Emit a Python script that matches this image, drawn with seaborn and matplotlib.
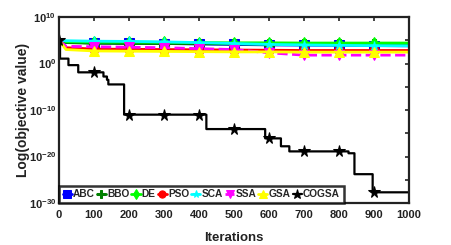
import numpy as np
import pandas as pd
import matplotlib
matplotlib.use("Agg")
import matplotlib.pyplot as plt
import seaborn as sns
from matplotlib.ticker import LogFormatterMathtext, NullFormatter, FixedLocator

sns.set_theme(style="white")
plt.rcParams['font.family'] = ['Liberation Sans Narrow', 'Liberation Sans', 'DejaVu Sans']
plt.rcParams['mathtext.fontset'] = 'custom'
plt.rcParams['mathtext.rm'] = 'Liberation Sans'
plt.rcParams['mathtext.bf'] = 'Liberation Sans:bold'

# ---- data (log10 of objective value) ----
iters = [0, 20, 100, 200, 300, 400, 500, 600, 700, 800, 900, 1000]
abc_log = [5.0, 4.6, 4.4, 4.35, 4.3, 4.2, 4.1, 4.0, 3.95, 3.9, 3.85, 3.8]
bbo_log = [5.0, 4.5, 4.35, 4.3, 4.3, 4.25, 4.2, 4.15, 4.1, 4.1, 4.1, 4.1]
de_log = [5.0, 4.7, 4.6, 4.6, 4.55, 4.5, 4.45, 4.45, 4.4, 4.4, 4.4, 4.4]
pso_log = [5.0, 3.4, 3.1, 3.05, 3.0, 2.95, 2.9, 2.85, 2.8, 2.8, 2.8, 2.8]
sca_log = [5.0, 4.9, 4.8, 4.75, 4.65, 4.5, 4.3, 4.1, 4.0, 3.9, 3.85, 3.8]
ssa_log = [5.0, 3.7, 3.6, 3.5, 3.4, 3.2, 3.0, 2.3, 1.8, 1.8, 1.8, 1.8]
gsa_log = [5.0, 3.0, 2.7, 2.65, 2.6, 2.55, 2.5, 2.5, 2.45, 2.45, 2.45, 2.45]

cogsa_iters = [0, 3, 27, 55, 127, 137, 141, 186, 421, 589, 634, 658, 827, 844, 896, 1000]
cogsa_log = [5.0, 1.05, -0.35, -1.9, -2.8, -3.5, -4.5, -11.0, -14.1, -16.1, -17.8, -18.9, -19.3, -23.8, -27.7, -27.7]

names = ["ABC", "BBO", "DE", "PSO", "SCA", "SSA", "GSA", "COGSA"]
colors = ["#0000ff", "#008000", "#00ff00", "#ff0000", "#00ffff", "#ff00ff", "#ffff00", "#000000"]
markers = ["s", "P", "d", "o", "*", "v", "^", "*"]
styles = ["-", "-", "-", "-", "-", "--", "-", "-"]
series = [abc_log, bbo_log, de_log, pso_log, sca_log, ssa_log, gsa_log]

fig = plt.figure(figsize=(4.52, 2.45), dpi=100)
ax = fig.add_axes([0.1305, 0.1714, 0.7745, 0.7592])

mark_idx = [2, 3, 4, 5, 6, 7, 8, 9, 10]
for name, vals, c, m, ls in zip(names[:7], series, colors[:7], markers[:7], styles[:7]):
    df = pd.DataFrame({"Iterations": iters, "value": np.power(10.0, vals)})
    sns.lineplot(data=df, x="Iterations", y="value", ax=ax, color=c, lw=2.0,
                 linestyle=ls, marker=m, markersize=6.5, markevery=mark_idx,
                 markeredgecolor=c, label=name)

# COGSA as step curve on the full iteration grid
full_it = np.arange(0, 1001)
idx = np.searchsorted(cogsa_iters, full_it, side="right") - 1
cog_vals = np.power(10.0, np.array(cogsa_log)[idx])
dfc = pd.DataFrame({"Iterations": full_it, "value": cog_vals})
sns.lineplot(data=dfc, x="Iterations", y="value", ax=ax, color="black", lw=1.6,
             drawstyle="steps-post", marker="*", markersize=8.5,
             markevery=list(range(0, 1000, 100)), markeredgecolor="black", label="COGSA")

ax.set_yscale("log")
ax.set_xlim(0, 1000)
ax.set_ylim(1e-30, 1e10)
ax.xaxis.set_major_locator(FixedLocator(list(range(0, 1001, 100))))
ax.yaxis.set_major_locator(FixedLocator([1e-30, 1e-20, 1e-10, 1e0, 1e10]))
ax.yaxis.set_major_formatter(LogFormatterMathtext())
ax.yaxis.set_minor_locator(FixedLocator([1e-25, 1e-15, 1e-5, 1e5]))
ax.yaxis.set_minor_formatter(NullFormatter())

ax.tick_params(axis="both", which="both", direction="in", top=True, right=True,
               length=3, width=1.2, colors="#222222", labelsize=8)
ax.tick_params(axis="x", pad=5)
ax.tick_params(axis="y", pad=2)
for lab in ax.get_xticklabels() + ax.get_yticklabels():
    lab.set_fontweight("bold")
    lab.set_color("#222222")
for sp in ax.spines.values():
    sp.set_linewidth(1.6)
    sp.set_color("#222222")

ax.set_xlabel("Iterations", fontsize=9.5, fontweight="bold", color="#222222")
ax.set_ylabel("Log(objective value)", fontsize=10, fontweight="bold", color="#222222")
ax.xaxis.set_label_coords(0.5, -0.155)
ax.yaxis.set_label_coords(-0.083, 0.5)
ax.grid(False)

leg = ax.legend(loc="lower left", ncol=8, borderaxespad=0,
                handlelength=0.9, handletextpad=0.12, columnspacing=0.2,
                borderpad=0.35, frameon=True, fancybox=False, markerscale=0.8,
                prop={"weight": "bold", "size": 7.3})
leg.get_frame().set_edgecolor("black")
leg.get_frame().set_linewidth(1.8)

fig.savefig("out.png", dpi=100)
